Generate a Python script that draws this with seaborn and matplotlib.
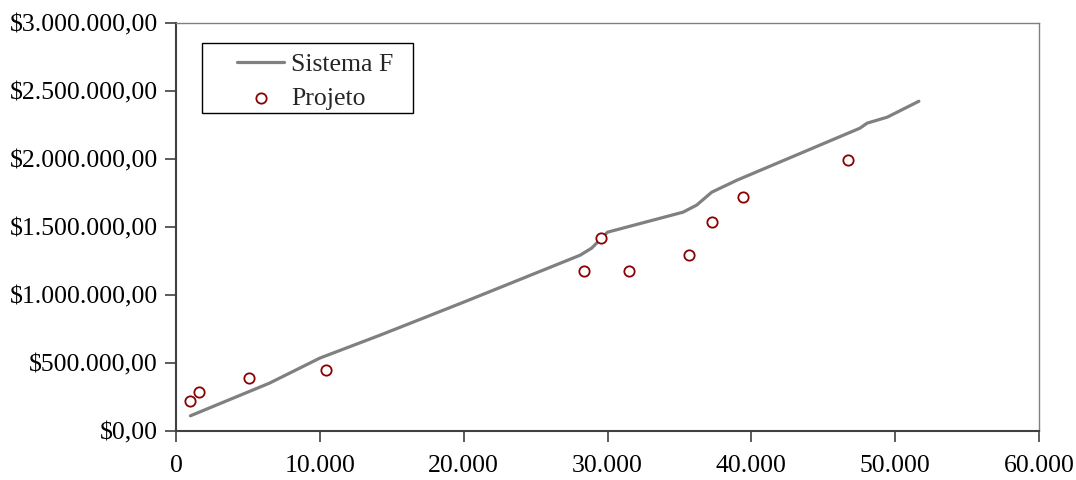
import matplotlib
matplotlib.use("Agg")
import matplotlib.pyplot as plt
import matplotlib.patches as mpatches
import seaborn as sns
import pandas as pd
from matplotlib.ticker import FuncFormatter, MultipleLocator

# Data
line_x = [1000, 6500, 10000, 14200, 17200, 20000, 28100, 28900, 30000, 35250,
          36200, 37250, 39000, 47550, 48050, 49450, 51650]
line_y = [112000, 352000, 536000, 705000, 830000, 947000, 1292000, 1344000, 1461000, 1608000,
          1660000, 1755000, 1843000, 2225000, 2262000, 2306000, 2423000]

proj_x = [970, 1580, 5070, 10450, 28370, 29530, 31520, 35670, 37250, 39450, 46710]
proj_y = [220000, 288000, 389000, 448000, 1177000, 1415000, 1177000, 1295000, 1537000, 1720000, 1990000]

line_df = pd.DataFrame({"x": line_x, "y": line_y})
proj_df = pd.DataFrame({"x": proj_x, "y": proj_y})

sns.set_style("white")
plt.rcParams["font.family"] = ["Liberation Serif", "DejaVu Serif"]

FS = 18.5

fig = plt.figure(figsize=(10.76, 4.8), dpi=100)
ax = fig.add_axes([0.1636, 0.102, 0.8020, 0.8507])

sns.lineplot(data=line_df, x="x", y="y", ax=ax, color="#808080", linewidth=2.3,
             label="Sistema F", sort=False)
sns.scatterplot(data=proj_df, x="x", y="y", ax=ax, marker="o", s=55,
                facecolor="white", edgecolor="#8B0000", linewidth=1.3, label="Projeto", zorder=3)

ax.set_xlim(0, 60000)
ax.set_ylim(0, 3000000)
ax.xaxis.set_major_locator(MultipleLocator(10000))
ax.yaxis.set_major_locator(MultipleLocator(500000))

def fmt_thousands(v):
    return f"{int(round(v)):,}".replace(",", ".")

ax.xaxis.set_major_formatter(FuncFormatter(lambda v, p: fmt_thousands(v)))
ax.yaxis.set_major_formatter(FuncFormatter(lambda v, p: "$" + fmt_thousands(v) + ",00"))

ax.set_xlabel("")
ax.set_ylabel("")
ax.tick_params(axis="both", which="major", direction="out", length=8, width=1.2,
               color="#404040", labelsize=FS, labelcolor="black")
ax.tick_params(axis="x", pad=9)
ax.tick_params(axis="y", pad=5)
ax.tick_params(left=True, bottom=True)

for side in ["left", "bottom"]:
    ax.spines[side].set_color("#404040")
    ax.spines[side].set_linewidth(1.5)
for side in ["top", "right"]:
    ax.spines[side].set_visible(True)
    ax.spines[side].set_color("#808080")
    ax.spines[side].set_linewidth(1.0)

# legend frame drawn separately
frame = mpatches.Rectangle((0.030, 0.779), 0.2445, 0.171, transform=ax.transAxes,
                           facecolor="white", edgecolor="black", linewidth=1.0, zorder=4)
ax.add_patch(frame)

leg = ax.legend(loc="upper left", bbox_to_anchor=(0.0705, 0.926), borderaxespad=0,
                frameon=False, fontsize=FS, handlelength=1.85, handletextpad=0.25,
                labelspacing=0.42, borderpad=0.0)
leg.set_zorder(5)

fig.savefig("out.png", dpi=100)
